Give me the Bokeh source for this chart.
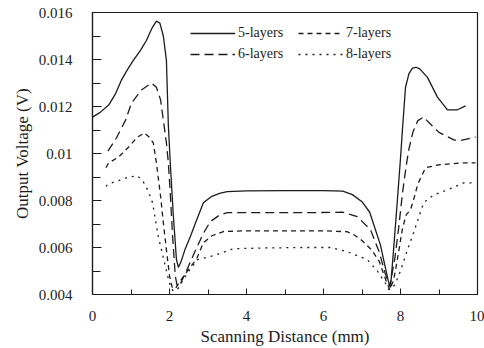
from bokeh.plotting import figure
from bokeh.models import Range1d, FixedTicker, Legend, LegendItem, PrintfTickFormatter
from bokeh.embed import file_html
from bokeh.resources import INLINE

# ---- data ----
x5 = [0.0, 0.2, 0.42, 0.6, 0.75, 0.9, 1.06, 1.25, 1.40, 1.55, 1.66, 1.75, 1.84, 1.92, 1.97,
      2.03, 2.10, 2.18, 2.23, 2.30, 2.40, 2.55, 2.70, 2.88, 3.1, 3.3, 3.5, 4.0, 5.0, 6.0, 6.5,
      6.75, 7.0, 7.2, 7.48, 7.6, 7.68, 7.74, 7.82, 7.92, 8.0, 8.05, 8.13, 8.22, 8.31, 8.40,
      8.50, 8.70, 8.96, 9.22, 9.48, 9.69]
y5 = [0.01155, 0.01175, 0.01206, 0.01255, 0.01312, 0.01355, 0.01396, 0.01440, 0.01481, 0.01535,
      0.01563, 0.01555, 0.01500, 0.01396, 0.01120, 0.00930, 0.00735, 0.00550, 0.00515, 0.00540,
      0.00590, 0.00650, 0.00715, 0.00790, 0.00818, 0.00830, 0.00838, 0.00841, 0.00842, 0.00842,
      0.00840, 0.00825, 0.00795, 0.00750, 0.00610, 0.00520, 0.00460, 0.00430, 0.00590, 0.00803,
      0.00980, 0.01100, 0.01282, 0.01340, 0.01363, 0.01367, 0.01360, 0.01324, 0.01240, 0.01186,
      0.01186, 0.01203]

x6 = [0.40, 0.62, 0.86, 1.01, 1.27, 1.53, 1.66, 1.77, 1.84, 1.92, 1.97, 2.02, 2.08, 2.15, 2.20,
      2.28, 2.42, 2.68, 2.88, 3.06, 3.3, 3.5, 4.5, 5.5, 6.5, 6.88, 7.22, 7.45, 7.60, 7.72, 7.85,
      7.95, 8.05, 8.15, 8.22, 8.32, 8.45, 8.60, 8.75, 9.0, 9.4, 9.6, 9.95]
y6 = [0.01010, 0.01066, 0.01142, 0.01214, 0.01270, 0.01300, 0.01282, 0.01227, 0.01142, 0.01045,
      0.00960, 0.00830, 0.00650, 0.00480, 0.00435, 0.00445, 0.00493, 0.00590, 0.00660, 0.00710,
      0.00738, 0.00748, 0.00748, 0.00748, 0.00750, 0.00731, 0.00676, 0.00580, 0.00490, 0.00435,
      0.00550, 0.00680, 0.00830, 0.00950, 0.01020, 0.01090, 0.01140, 0.01155, 0.01130, 0.01090,
      0.01057, 0.01057, 0.01070]

x7 = [0.35, 0.42, 0.68, 0.94, 1.17, 1.35, 1.47, 1.58, 1.66, 1.77, 1.84, 1.92, 2.00, 2.07, 2.15,
      2.31, 2.49, 2.70, 2.88, 3.1, 3.4, 4.0, 5.0, 6.0, 6.62, 6.78, 7.0, 7.25, 7.45, 7.6, 7.72,
      7.82, 7.92, 8.05, 8.15, 8.26, 8.34, 8.45, 8.65, 8.96, 9.56, 9.95]
y7 = [0.00940, 0.00960, 0.00985, 0.01028, 0.01070, 0.01087, 0.01070, 0.01045, 0.00960, 0.00816,
      0.00705, 0.00590, 0.00480, 0.00430, 0.00425, 0.00464, 0.00506, 0.00550, 0.00620, 0.00650,
      0.00668, 0.00671, 0.00671, 0.00671, 0.00667, 0.00655, 0.00630, 0.00590, 0.00540, 0.00470,
      0.00420, 0.00460, 0.00550, 0.00680, 0.00740, 0.00760, 0.00803, 0.00870, 0.00939, 0.00951,
      0.00960, 0.00960]

x8 = [0.35, 0.42, 0.68, 0.94, 1.17, 1.32, 1.45, 1.56, 1.71, 1.85, 1.95, 2.03, 2.10, 2.20, 2.35,
      2.50, 2.73, 3.14, 3.66, 4.5, 5.5, 6.18, 6.62, 7.14, 7.40, 7.60, 7.70, 7.85, 8.0, 8.18,
      8.34, 8.6, 8.86, 9.22, 9.64, 9.90]
y8 = [0.00860, 0.00871, 0.00885, 0.00900, 0.00905, 0.00879, 0.00840, 0.00790, 0.00646, 0.00550,
      0.00480, 0.00430, 0.00415, 0.00420, 0.00460, 0.00500, 0.00548, 0.00565, 0.00595, 0.00598,
      0.00600, 0.00600, 0.00582, 0.00548, 0.00500, 0.00450, 0.00420, 0.00440, 0.00500, 0.00590,
      0.00663, 0.00790, 0.00824, 0.00845, 0.00875, 0.00875]

series_labels = ["5-layers", "6-layers", "7-layers", "8-layers"]

x_ticks = [0, 2, 4, 6, 8, 10]
x_tick_labels = ["0", "2", "4", "6", "8", "10"]
x_minor = [1, 3, 5, 7, 9]
y_ticks = [0.004, 0.006, 0.008, 0.01, 0.012, 0.014, 0.016]
y_tick_labels = ["0.004", "0.006", "0.008", "0.01", "0.012", "0.014", "0.016"]
y_minor = [0.005, 0.007, 0.009, 0.011, 0.013, 0.015]

INK = "#1c1c1c"
FONT = "Liberation Serif"

p = figure(width=484, height=348, x_range=Range1d(0, 10), y_range=Range1d(0.004, 0.016),
           output_backend="svg", toolbar_location=None,
           min_border_left=92, min_border_right=7, min_border_top=12, min_border_bottom=53)
p.background_fill_color = "white"
p.border_fill_color = "white"
p.grid.visible = False
p.outline_line_color = INK
p.outline_line_width = 1.2

styles = ["solid", "9 5", "5 4", "2 5"]
xs = [x5, x6, x7, x8]
ys = [y5, y6, y7, y8]
rends = []
for xx, yy, dash in zip(xs, ys, styles):
    r = p.line(xx, yy, line_color=INK, line_width=1.3, line_dash=dash)
    rends.append(r)

p.xaxis.axis_label = "Scanning Distance (mm)"
p.yaxis.axis_label = "Output Voltage (V)"

for axes in (p.xaxis, p.yaxis):
    axes.axis_line_color = INK
    axes.axis_line_width = 1.2
    axes.major_tick_line_color = INK
    axes.minor_tick_line_color = INK
    axes.major_tick_out = 0
    axes.minor_tick_out = 0
    axes.major_label_text_font = FONT
    axes.major_label_text_font_size = "15px"
    axes.major_label_text_color = INK
    axes.axis_label_text_font = FONT
    axes.axis_label_text_font_size = "17px"
    axes.axis_label_text_font_style = "normal"
    axes.axis_label_text_color = INK

p.xaxis.ticker = FixedTicker(ticks=x_ticks, minor_ticks=x_minor)
p.xaxis.major_label_overrides = {t: l for t, l in zip(x_ticks, x_tick_labels)}
p.xaxis.major_tick_in = 6
p.xaxis.minor_tick_in = 5
p.xaxis.major_label_standoff = 16
p.xaxis.axis_label_standoff = 3

p.yaxis.ticker = FixedTicker(ticks=y_ticks, minor_ticks=y_minor)
p.yaxis.formatter = PrintfTickFormatter(format="%g")
p.yaxis.major_label_overrides = {t: l for t, l in zip(y_ticks, y_tick_labels)}
p.yaxis.major_tick_in = 9
p.yaxis.minor_tick_in = 8
p.yaxis.major_label_standoff = 20
p.yaxis.axis_label_standoff = 4

def make_legend(items, loc):
    return Legend(items=items, location=loc, orientation="vertical",
                  glyph_width=45, glyph_height=16, label_height=16, label_standoff=3,
                  spacing=5, padding=0, margin=0,
                  border_line_alpha=0, background_fill_alpha=0,
                  label_text_font=FONT, label_text_font_size="14px", label_text_color=INK)

leg1 = make_legend([LegendItem(label=series_labels[0], renderers=[rends[0]]),
                    LegendItem(label=series_labels[1], renderers=[rends[1]])], (98, 232))
leg2 = make_legend([LegendItem(label=series_labels[2], renderers=[rends[2]]),
                    LegendItem(label=series_labels[3], renderers=[rends[3]])], (206, 232))
p.add_layout(leg1)
p.add_layout(leg2)

open("out.html", "w").write(file_html(p, INLINE))
